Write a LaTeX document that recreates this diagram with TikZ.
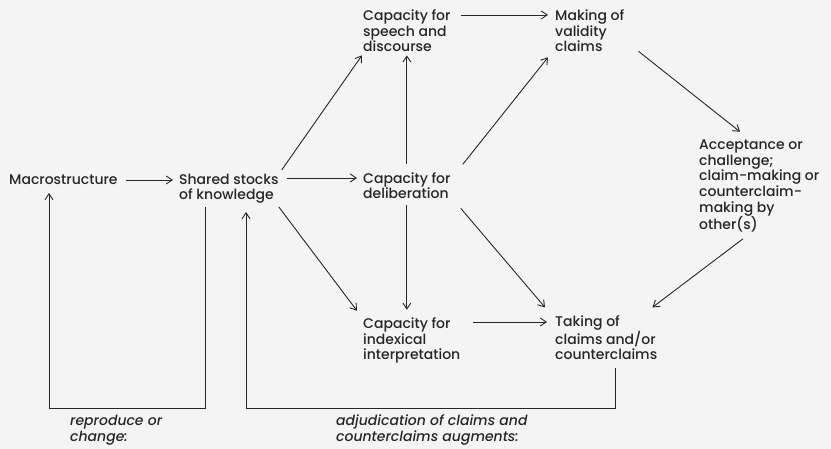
\documentclass[tikz,border=0pt]{standalone}
\usepackage{fontspec}
\setmainfont{Poppins Medium}[ItalicFont={Poppins Medium Italic}]
\usetikzlibrary{arrows.meta}
\definecolor{ink}{HTML}{262626}
\definecolor{paper}{HTML}{F4F4F4}
\begin{document}
\begin{tikzpicture}[x=1pt,y=-1pt,
  lbl/.style={anchor=base west, inner sep=0pt, align=left,
    font=\fontsize{14}{15.6}\selectfont, text=ink},
  note/.style={lbl, font=\fontsize{14}{16}\selectfont\itshape},
  arr/.style={draw=ink, line width=0.9pt, -{Straight Barb[length=6pt,width=8pt]}}]

% page
\fill[paper] (0,0) rectangle (831,449);
\useasboundingbox (0,0) rectangle (831,449);

% text blocks (placed by the baseline of their last line)
\node[lbl] (macro)  at (9,185)   {Macrostructure};
\node[lbl] (stock)  at (179,200) {Shared stocks\\of knowledge};
\node[lbl] (speech) at (363,52)  {Capacity for\\speech and\\discourse};
\node[lbl] (valid)  at (555,52)  {Making of\\validity\\claims};
\node[lbl] (delib)  at (363,199) {Capacity for\\deliberation};
\node[lbl] (accept) at (699,230) {Acceptance or\\challenge;\\claim-making or\\counterclaim-\\making by\\other(s)};
\node[lbl] (index)  at (363,360) {Capacity for\\indexical\\interpretation};
\node[lbl] (take)   at (555,360) {Taking of\\claims and/or\\counterclaims};
\node[note] (repro) at (70,441)  {reproduce or\\change:};
\node[note] (adjud) at (336,441) {adjudication of claims and\\counterclaims augments:};

% forward arrows
\draw[arr] ([xshift=8pt,yshift=5pt]macro.base east) -- ([xshift=-6pt,yshift=20pt]stock.base west);
\draw[arr] ([xshift=8pt,yshift=22pt]stock.base east) -- ([xshift=-6pt,yshift=21pt]delib.base west);
\draw[arr] ([xshift=3pt,yshift=4pt]stock.north east) -- ([xshift=-1pt,yshift=-3pt]speech.south west);
\draw[arr] ([xshift=0pt,yshift=-3pt]stock.south east) -- ([xshift=-6pt,yshift=7pt]index.north west);
\draw[arr] ([yshift=8pt]delib.north) -- ([yshift=-3pt]delib.north |- speech.south);
\draw[arr] ([yshift=-6pt]delib.south) -- ([yshift=8pt]delib.south |- index.north);
\draw[arr] ([xshift=10pt,yshift=37pt]speech.base east) -- ([xshift=-7pt,yshift=37pt]valid.base west);
\draw[arr] ([xshift=12pt,yshift=8pt]delib.north east) -- ([xshift=-7pt,yshift=-5pt]valid.south west);
\draw[arr] ([xshift=10pt,yshift=-9pt]delib.south east) -- ([xshift=-10pt,yshift=8pt]take.north west);
\draw[arr] ([xshift=14pt,yshift=1pt]valid.south east) -- ([xshift=41pt,yshift=8pt]accept.north west);
\draw[arr] ([xshift=44pt,yshift=-6pt]accept.south west) -- ([xshift=-5pt,yshift=8pt]take.north east);
\draw[arr] ([xshift=12pt,yshift=38pt]index.base east) -- ([xshift=-8pt,yshift=38pt]take.base west);

% feedback loops
\coordinate (floor) at (0,408);
\coordinate (sDown) at ([xshift=26pt]stock.south west |- 0,207);
\coordinate (mUp)   at ([xshift=40pt]macro.south west |- 0,193);
\coordinate (tDown) at ([xshift=60pt]take.south west |- 0,368);
\coordinate (sUp)   at ([xshift=67pt]stock.south west |- 0,212);
\draw[arr] (sDown) -- (sDown |- floor) -| (mUp);
\draw[arr] (tDown) -- (tDown |- floor) -| (sUp);
\end{tikzpicture}
\end{document}
